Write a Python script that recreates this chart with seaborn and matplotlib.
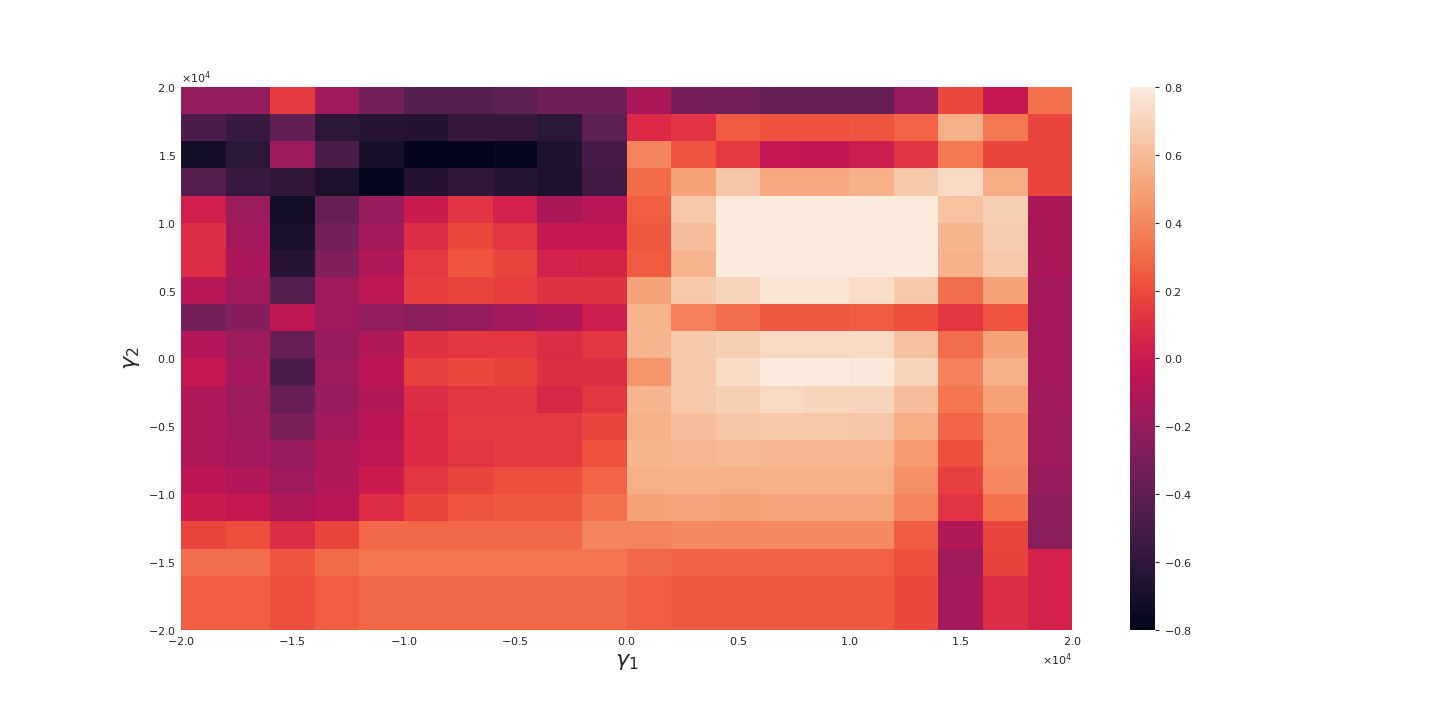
import matplotlib

matplotlib.use("Agg")
import matplotlib.pyplot as plt
import numpy as np
import seaborn as sns

# cell values, rows listed top (gamma_2 = 2e4) to bottom (gamma_2 = -2e4)
gamma_min, gamma_max, n_cells = -20000, 20000, 20
row_values = [
    [-0.21, -0.21, 0.14, -0.16, -0.33, -0.45, -0.45, -0.41, -0.35, -0.35, -0.13, -0.31, -0.33, -0.38, -0.38, -0.38, -0.19, 0.19, -0.03, 0.32],
    [-0.48, -0.56, -0.40, -0.61, -0.64, -0.65, -0.58, -0.58, -0.61, -0.41, 0.08, 0.12, 0.25, 0.22, 0.22, 0.23, 0.28, 0.55, 0.35, 0.18],
    [-0.72, -0.61, -0.18, -0.49, -0.70, -0.79, -0.80, -0.77, -0.67, -0.50, 0.39, 0.23, 0.14, -0.03, -0.04, 0.01, 0.12, 0.35, 0.18, 0.18],
    [-0.45, -0.57, -0.60, -0.68, -0.78, -0.65, -0.60, -0.64, -0.68, -0.52, 0.30, 0.50, 0.64, 0.53, 0.53, 0.56, 0.66, 0.72, 0.54, 0.18],
    [0.03, -0.18, -0.72, -0.38, -0.19, 0.00, 0.12, 0.04, -0.12, -0.07, 0.26, 0.65, 0.82, 0.82, 0.82, 0.82, 0.82, 0.63, 0.68, -0.12],
    [0.09, -0.15, -0.69, -0.33, -0.15, 0.09, 0.19, 0.13, -0.02, -0.02, 0.24, 0.61, 0.82, 0.82, 0.82, 0.82, 0.82, 0.57, 0.67, -0.12],
    [0.09, -0.12, -0.63, -0.27, -0.10, 0.14, 0.23, 0.18, 0.04, 0.05, 0.25, 0.57, 0.82, 0.82, 0.82, 0.82, 0.82, 0.56, 0.65, -0.12],
    [-0.07, -0.17, -0.45, -0.17, -0.05, 0.15, 0.18, 0.15, 0.11, 0.11, 0.50, 0.66, 0.70, 0.77, 0.77, 0.74, 0.66, 0.31, 0.50, -0.15],
    [-0.33, -0.26, -0.05, -0.17, -0.21, -0.25, -0.21, -0.15, -0.11, 0.01, 0.57, 0.38, 0.31, 0.24, 0.24, 0.25, 0.21, 0.13, 0.23, -0.15],
    [-0.09, -0.18, -0.38, -0.19, -0.10, 0.11, 0.13, 0.13, 0.09, 0.13, 0.57, 0.65, 0.68, 0.72, 0.72, 0.72, 0.62, 0.31, 0.50, -0.15],
    [-0.02, -0.15, -0.48, -0.18, -0.06, 0.16, 0.19, 0.17, 0.10, 0.10, 0.45, 0.66, 0.73, 0.80, 0.80, 0.79, 0.70, 0.38, 0.56, -0.15],
    [-0.10, -0.18, -0.37, -0.19, -0.10, 0.09, 0.13, 0.13, 0.07, 0.13, 0.57, 0.65, 0.68, 0.72, 0.71, 0.70, 0.61, 0.34, 0.49, -0.16],
    [-0.10, -0.16, -0.30, -0.15, -0.06, 0.08, 0.14, 0.14, 0.14, 0.18, 0.56, 0.61, 0.64, 0.65, 0.65, 0.64, 0.54, 0.28, 0.43, -0.17],
    [-0.11, -0.15, -0.19, -0.11, -0.05, 0.08, 0.13, 0.14, 0.14, 0.22, 0.57, 0.58, 0.59, 0.58, 0.58, 0.58, 0.48, 0.21, 0.43, -0.17],
    [-0.06, -0.10, -0.17, -0.10, 0.00, 0.13, 0.18, 0.21, 0.21, 0.28, 0.55, 0.56, 0.55, 0.56, 0.56, 0.56, 0.43, 0.16, 0.40, -0.19],
    [0.00, -0.02, -0.11, -0.07, 0.09, 0.18, 0.23, 0.24, 0.24, 0.32, 0.50, 0.51, 0.50, 0.51, 0.51, 0.51, 0.39, 0.12, 0.32, -0.23],
    [0.18, 0.21, 0.09, 0.18, 0.29, 0.29, 0.29, 0.29, 0.29, 0.39, 0.39, 0.41, 0.40, 0.41, 0.41, 0.41, 0.25, -0.10, 0.18, -0.25],
    [0.31, 0.31, 0.23, 0.30, 0.34, 0.34, 0.34, 0.34, 0.34, 0.34, 0.29, 0.27, 0.27, 0.27, 0.27, 0.27, 0.21, -0.17, 0.17, 0.04],
    [0.26, 0.26, 0.21, 0.26, 0.29, 0.29, 0.29, 0.29, 0.29, 0.29, 0.26, 0.24, 0.24, 0.24, 0.24, 0.24, 0.19, -0.14, 0.09, 0.04],
    [0.26, 0.26, 0.21, 0.26, 0.29, 0.29, 0.29, 0.29, 0.29, 0.29, 0.26, 0.24, 0.24, 0.24, 0.24, 0.24, 0.19, -0.14, 0.09, 0.04],
]
cbar_ticks = [-0.8, -0.6, -0.4, -0.2, 0.0, 0.2, 0.4, 0.6, 0.8]

sns.set_theme(style="white")
plt.rcParams["axes.formatter.use_mathtext"] = True

values = np.array(row_values)[::-1]
edges = np.linspace(gamma_min, gamma_max, n_cells + 1)

fig = plt.figure(figsize=(14.4, 7.2), dpi=100)
ax = fig.add_axes([0.1257, 0.125, 0.6188, 0.7542])
cax = fig.add_axes([0.7847, 0.125, 0.0174, 0.7542])

mesh = ax.pcolormesh(edges, edges, values, cmap=sns.color_palette("rocket", as_cmap=True),
                     vmin=-0.8, vmax=0.8)
ax.set_xlim(gamma_min, gamma_max)
ax.set_ylim(gamma_min, gamma_max)
ax.set_xticks(np.arange(gamma_min, gamma_max + 1, 5000))
ax.set_yticks(np.arange(gamma_min, gamma_max + 1, 5000))
ax.ticklabel_format(style="sci", scilimits=(0, 0))
ax.tick_params(labelsize=8, colors="#262626", length=0)
ax.xaxis.get_offset_text().set_fontsize(8)
ax.yaxis.get_offset_text().set_fontsize(8)
for s in ax.spines.values():
    s.set_visible(False)
ax.set_xlabel(r"$\gamma_1$", fontsize=16)
ax.set_ylabel(r"$\gamma_2$", fontsize=16)

cbar = fig.colorbar(mesh, cax=cax, ticks=cbar_ticks)
cbar.outline.set_visible(False)
cbar.ax.tick_params(labelsize=8, colors="#262626", length=3, width=0.8, right=True)

fig.savefig("out.png", dpi=100)
